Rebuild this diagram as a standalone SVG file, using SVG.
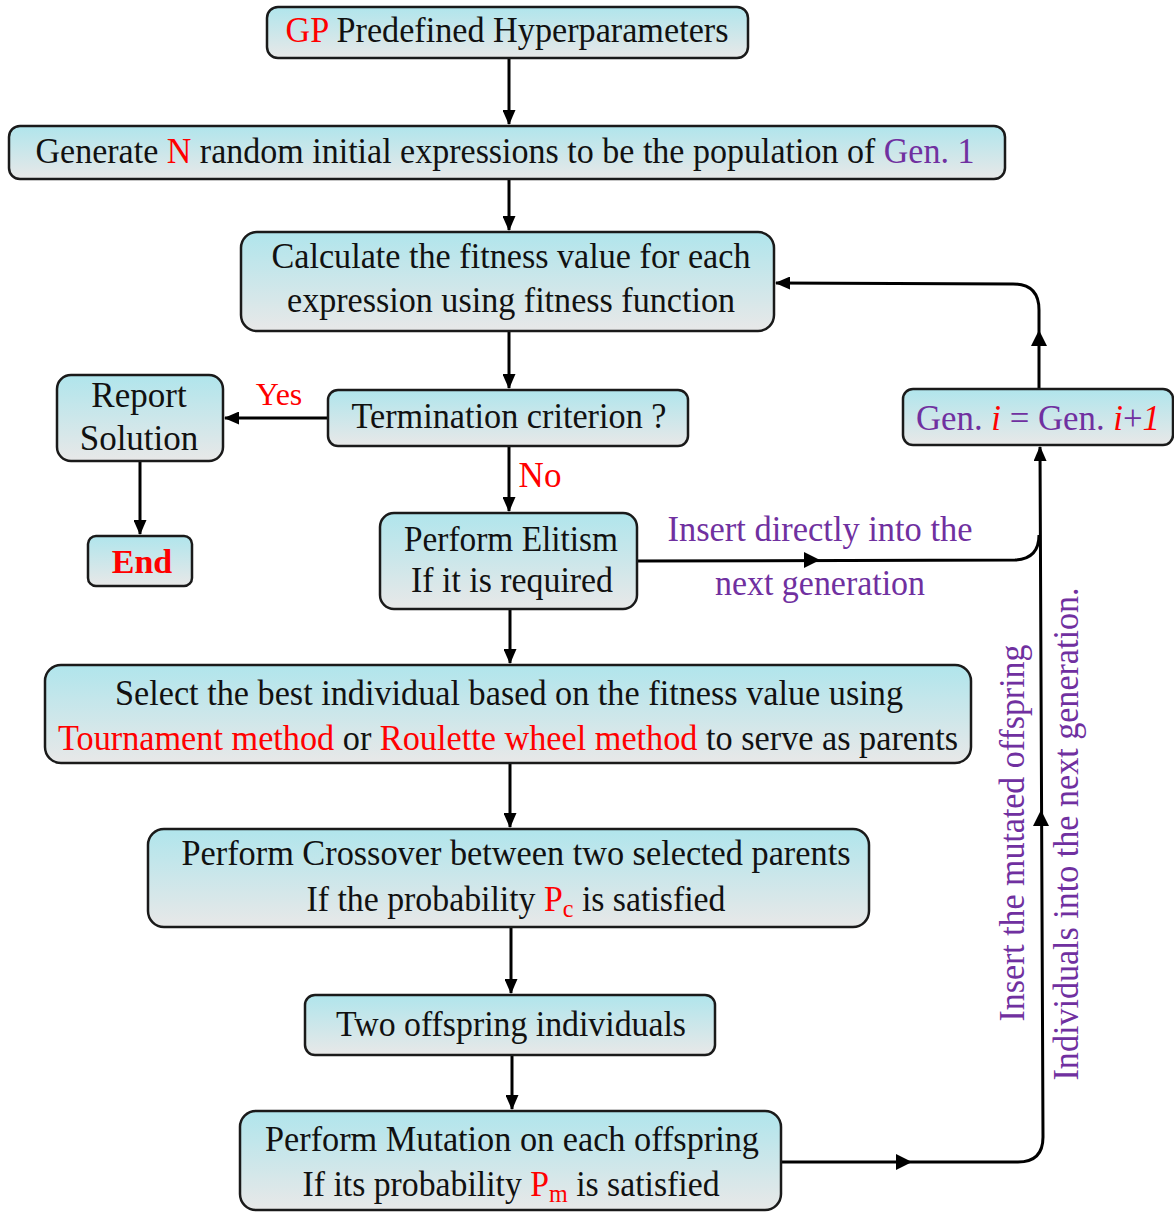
<svg xmlns="http://www.w3.org/2000/svg" width="1174" height="1212" viewBox="0 0 1174 1212">
<defs>
<linearGradient id="g" x1="0" y1="0" x2="0" y2="1">
<stop offset="0" stop-color="#b0e5ec"/>
<stop offset="1" stop-color="#e8e8e8"/>
</linearGradient>
<marker id="ah" viewBox="0 0 15 13" refX="14" refY="6.5" markerWidth="15" markerHeight="13" markerUnits="userSpaceOnUse" orient="auto">
<path d="M0,0 L15,6.5 L0,13 Z" fill="#000"/>
</marker>
</defs>
<style>
.box{fill:url(#g);stroke:#1a1a1a;stroke-width:2.5}
.t{font-family:'Liberation Serif','Times New Roman',serif;font-size:35px;fill:#111;text-anchor:middle}
.r{fill:#ff0000}
.p{fill:#7030a0}
.ln{fill:none;stroke:#000;stroke-width:3}
.mh{fill:#000}
</style>
<rect width="1174" height="1212" fill="#fff"/>

<g id="connectors">
<path class="ln" d="M509,58 V124" marker-end="url(#ah)"/>
<path class="ln" d="M509,179 V230" marker-end="url(#ah)"/>
<path class="ln" d="M509,331 V388" marker-end="url(#ah)"/>
<path class="ln" d="M328,418 H225" marker-end="url(#ah)"/>
<path class="ln" d="M140,461 V534" marker-end="url(#ah)"/>
<path class="ln" d="M509,446 V511" marker-end="url(#ah)"/>
<path class="ln" d="M510,609 V663" marker-end="url(#ah)"/>
<path class="ln" d="M510,763 V827" marker-end="url(#ah)"/>
<path class="ln" d="M511,927 V993" marker-end="url(#ah)"/>
<path class="ln" d="M512,1055 V1109" marker-end="url(#ah)"/>
<path class="ln" d="M637,561 L1015,560 Q1039,559 1039,535"/>
<path class="ln" d="M781,1162 L1018,1162 Q1043,1162 1043,1137 L1040,447" marker-end="url(#ah)"/>
<path class="ln" d="M1039,389 V310 Q1039,284 1013,284 L776,283" marker-end="url(#ah)"/>
<path class="mh" d="M820,560 L804,552 L804,568 Z"/>
<path class="mh" d="M912,1162 L896,1154 L896,1170 Z"/>
<path class="mh" d="M1041,810 L1033,826 L1049,826 Z"/>
<path class="mh" d="M1039,330 L1031,346 L1047,346 Z"/>
<text class="t r" x="279" y="405" style="font-size:32px">Yes</text>
<text class="t r" x="540" y="487">No</text>
<text class="t p" x="820" y="541" textLength="305" lengthAdjust="spacingAndGlyphs">Insert directly  into the</text>
<text class="t p" x="820" y="595" textLength="210" lengthAdjust="spacingAndGlyphs">next generation</text>
<text class="t p" transform="translate(1024,833) rotate(-90)" textLength="377" lengthAdjust="spacingAndGlyphs">Insert the mutated offspring</text>
<text class="t p" transform="translate(1078,834) rotate(-90)" textLength="493" lengthAdjust="spacingAndGlyphs">Individuals into the next generation.</text>
</g>

<g id="n1">
<rect class="box" x="267" y="7" width="481" height="51" rx="11"/>
<text class="t" x="507" y="42" textLength="443" lengthAdjust="spacingAndGlyphs"><tspan class="r">GP</tspan> Predefined Hyperparameters</text>
</g>
<g id="n2">
<rect class="box" x="9" y="126" width="996" height="53" rx="11"/>
<text class="t" x="505" y="163" textLength="939" lengthAdjust="spacingAndGlyphs">Generate <tspan class="r">N</tspan> random initial  expressions to be the population of <tspan class="p">Gen. 1</tspan></text>
</g>
<g id="n3">
<rect class="box" x="241" y="232" width="533" height="99" rx="16"/>
<text class="t" x="511" y="268" textLength="479" lengthAdjust="spacingAndGlyphs">Calculate  the  fitness  value  for  each</text>
<text class="t" x="511" y="312" textLength="448" lengthAdjust="spacingAndGlyphs">expression using fitness function</text>
</g>
<g id="n4">
<rect class="box" x="328" y="390" width="360" height="56" rx="10"/>
<text class="t" x="509" y="428" textLength="315" lengthAdjust="spacingAndGlyphs">Termination  criterion ?</text>
</g>
<g id="n5">
<rect class="box" x="57" y="375" width="166" height="86" rx="14"/>
<text class="t" x="139" y="407">Report</text>
<text class="t" x="139" y="450">Solution</text>
</g>
<g id="n6">
<rect class="box" x="88" y="536" width="104" height="50" rx="8"/>
<text class="t r" x="142" y="573" style="font-weight:bold;font-size:34px">End</text>
</g>
<g id="n7">
<rect class="box" x="380" y="513" width="257" height="96" rx="14"/>
<text class="t" x="511" y="551" textLength="214" lengthAdjust="spacingAndGlyphs">Perform Elitism</text>
<text class="t" x="512" y="592" textLength="202" lengthAdjust="spacingAndGlyphs">If it is required</text>
</g>
<g id="n8">
<rect class="box" x="903" y="389" width="270" height="56" rx="10"/>
<text class="t p" x="1038" y="430" textLength="244" lengthAdjust="spacingAndGlyphs">Gen. <tspan class="r" font-style="italic">i</tspan> = Gen. <tspan class="r" font-style="italic">i</tspan>+<tspan class="r" font-style="italic">1</tspan></text>
</g>
<g id="n9">
<rect class="box" x="45" y="665" width="926" height="98" rx="16"/>
<text class="t" x="509" y="705" textLength="788" lengthAdjust="spacingAndGlyphs">Select  the best individual  based on the fitness value using</text>
<text class="t" x="508" y="750" textLength="900" lengthAdjust="spacingAndGlyphs"><tspan class="r">Tournament method</tspan> or <tspan class="r">Roulette wheel method</tspan> to serve as parents</text>
</g>
<g id="n10">
<rect class="box" x="148" y="829" width="721" height="98" rx="16"/>
<text class="t" x="516" y="865" textLength="669" lengthAdjust="spacingAndGlyphs">Perform Crossover between two selected  parents</text>
<text class="t" x="516" y="911" textLength="419" lengthAdjust="spacingAndGlyphs">If the probability <tspan class="r">P<tspan font-size="25" dy="6">c</tspan></tspan><tspan dy="-6"> is satisfied</tspan></text>
</g>
<g id="n11">
<rect class="box" x="305" y="995" width="410" height="60" rx="10"/>
<text class="t" x="511" y="1036" textLength="350" lengthAdjust="spacingAndGlyphs">Two  offspring  individuals</text>
</g>
<g id="n12">
<rect class="box" x="240" y="1111" width="541" height="99" rx="16"/>
<text class="t" x="512" y="1151" textLength="494" lengthAdjust="spacingAndGlyphs">Perform Mutation on each offspring</text>
<text class="t" x="511" y="1196" textLength="417" lengthAdjust="spacingAndGlyphs">If its probability <tspan class="r">P<tspan font-size="25" dy="6">m</tspan></tspan><tspan dy="-6">  is satisfied</tspan></text>
</g>
</svg>
